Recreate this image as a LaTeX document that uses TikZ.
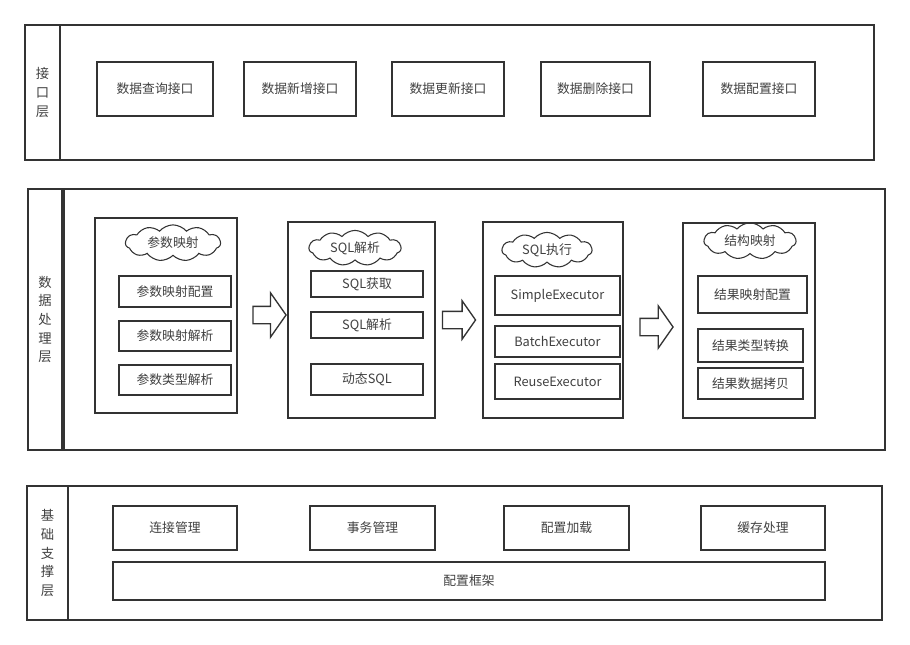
\documentclass[tikz,border=0pt]{standalone}
\usepackage{fontspec}
\setmainfont{Noto Sans CJK SC}
\usetikzlibrary{shapes.symbols,shapes.arrows}
\definecolor{ink}{HTML}{333333}
\definecolor{txt}{HTML}{404040}
\newcommand{\px}{0.75pt}
\begin{document}
\begin{tikzpicture}[x=0.75pt, y=-0.75pt, every node/.style={font=\fontsize{9.6}{13}\selectfont, text=txt}]
  \tikzstyle{layer}=[draw=ink,line width=1.5pt,inner sep=0pt]
  \tikzstyle{lbl}=[layer,align=center,font=\fontsize{10}{14}\selectfont]
  \tikzstyle{item}=[draw=ink,line width=1.4pt,inner sep=0pt,minimum width=112*\px,minimum height=30*\px]
  \tikzstyle{grp}=[draw=ink,line width=1.1pt,inner sep=0pt,minimum width=142*\px,minimum height=196*\px]
  \tikzstyle{tag}=[cloud,draw=ink,line width=0.8pt,cloud puffs=11,cloud puff arc=100,aspect=2.6,inner sep=0pt,minimum width=92*\px,minimum height=31*\px]
  \tikzstyle{flow}=[single arrow,draw=ink,line width=1pt,inner xsep=0pt,inner ysep=8*\px,minimum height=33*\px,single arrow head extend=13*\px,single arrow tip angle=110]
  \useasboundingbox (0,0) rectangle (910,645);

  % interface layer
  \node[lbl,minimum width=35*\px,minimum height=135*\px] (lblA) at (42.5,92.5) {接\\口\\层};
  \node[layer,minimum width=814*\px,minimum height=135*\px] (layA) at (467,92.5) {};
  \node[item,minimum width=116*\px,minimum height=54*\px] (q1) at (155,89) {数据查询接口};
  \node[item,minimum height=54*\px] (q2) at (300,89) {数据新增接口};
  \node[item,minimum height=54*\px] (q3) at (448,89) {数据更新接口};
  \node[item,minimum width=109*\px,minimum height=54*\px] (q4) at (595.5,89) {数据删除接口};
  \node[item,minimum height=54*\px] (q5) at (759,89) {数据配置接口};

  % processing layer
  \node[lbl,minimum width=34*\px,minimum height=261*\px] (lblB) at (45,319.5) {数\\据\\处\\理\\层};
  \node[layer,minimum width=821*\px,minimum height=261*\px] (layB) at (474.5,319.5) {};

  \node[grp,minimum height=195*\px] (grpA) at (166,315.5) {};
  \node[tag,minimum width=95*\px] (cA) at (173,243) {参数映射};
  \node[item,minimum height=31*\px] (a1) at (175,291.5) {参数映射配置};
  \node[item] (a2) at (175,336) {参数映射解析};
  \node[item] (a3) at (175,380) {参数类型解析};

  \node[flow,single arrow head extend=13.5*\px] (r1) at (266.5,315) {};

  \node[grp,minimum width=147*\px] (grpB) at (361.5,320) {};
  \node[tag] (cB) at (355,248) {SQL解析};
  \node[item,minimum height=26*\px] (b1) at (367,284) {SQL获取};
  \node[item,minimum height=26*\px] (b2) at (367,325) {SQL解析};
  \node[item,minimum height=31*\px] (b3) at (367,379.5) {动态SQL};

  \node[flow,single arrow head extend=10.5*\px] (r2) at (456,320) {};

  \node[grp,minimum width=140*\px] (grpC) at (553,320) {};
  \node[tag,minimum width=90*\px] (cC) at (547,250) {SQL执行};
  \node[item,minimum width=125*\px,minimum height=39*\px] (c1) at (557.5,295.5) {SimpleExecutor};
  \node[item,minimum width=125*\px,minimum height=31*\px] (c2) at (557.5,341.5) {BatchExecutor};
  \node[item,minimum width=125*\px,minimum height=35*\px] (c3) at (557.5,381.5) {ReuseExecutor};

  \node[flow,single arrow head extend=12.5*\px] (r3) at (653.5,327) {};

  \node[grp,minimum width=132*\px,minimum height=195*\px] (grpD) at (749,320.5) {};
  \node[tag] (cD) at (750,241) {结构映射};
  \node[item,minimum width=109*\px,minimum height=37*\px] (d1) at (752.5,294.5) {结果映射配置};
  \node[item,minimum width=105*\px,minimum height=33*\px] (d2) at (750.5,345.5) {结果类型转换};
  \node[item,minimum width=105*\px,minimum height=31*\px] (d3) at (750.5,383.5) {结果数据拷贝};

  % support layer
  \node[lbl,minimum width=41*\px,minimum height=134*\px] (lblC) at (47.5,553) {基\\础\\支\\撑\\层};
  \node[layer,minimum width=814*\px,minimum height=134*\px] (layC) at (475,553) {};
  \node[item,minimum width=124*\px,minimum height=44*\px] (e1) at (175,528) {连接管理};
  \node[item,minimum width=125*\px,minimum height=44*\px] (e2) at (372.5,528) {事务管理};
  \node[item,minimum width=125*\px,minimum height=44*\px] (e3) at (566.5,528) {配置加载};
  \node[item,minimum width=124*\px,minimum height=44*\px] (e4) at (763,528) {缓存处理};
  \node[item,minimum width=712*\px,minimum height=38*\px] (e5) at (469,581) {配置框架};
\end{tikzpicture}
\end{document}
